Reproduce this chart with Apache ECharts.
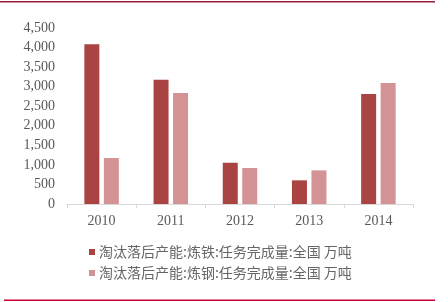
<!DOCTYPE html>
<html><head><meta charset="utf-8">
<script src="https://cdn.jsdelivr.net/npm/echarts@6/dist/echarts.min.js"></script>
<style>html,body{margin:0;padding:0;background:#fff}#c{width:448px;height:302px}</style>
</head><body><div id="c"></div>
<script>
const categories = ['2010','2011','2012','2013','2014'];
const ironValues = [4085, 3180, 1055, 605, 2815];
const steelValues = [1175, 2840, 920, 860, 3095];
const seriesNames = ['淘汰落后产能:炼铁:任务完成量:全国 万吨','淘汰落后产能:炼钢:任务完成量:全国 万吨'];
const yTicks = {min:0, max:4500, interval:500};

const chart = echarts.init(document.getElementById('c'), null, {renderer:'canvas'});
chart.setOption({
  animation:false,
  graphic:[
    {type:'rect', shape:{x:0,y:1,width:435,height:1.5}, style:{fill:'#9b1b30'}},
    {type:'rect', shape:{x:4,y:299.5,width:431,height:1.5}, style:{fill:'#cc0033'}}
  ],
  grid:{left:67,right:35,top:28,bottom:98,containLabel:false},
  legend:{
    orient:'vertical', left:84, top:240, itemWidth:6, itemHeight:6, itemGap:7,
    icon:'rect',
    textStyle:{fontFamily:'Noto Sans CJK SC',fontSize:14,color:'#666666',padding:[0,0,0,-1]},
    data:seriesNames
  },
  xAxis:{
    type:'category', data:categories,
    axisLine:{lineStyle:{color:'#d9d9d9'}},
    axisTick:{show:true,length:4,lineStyle:{color:'#d9d9d9'}},
    axisLabel:{fontFamily:'Liberation Serif',fontSize:14,color:'#595959',margin:10}
  },
  yAxis:{
    type:'value', min:yTicks.min, max:yTicks.max, interval:yTicks.interval,
    axisLine:{show:false}, axisTick:{show:false}, splitLine:{show:false},
    axisLabel:{fontFamily:'Liberation Serif',fontSize:14,color:'#595959',margin:12,
      formatter:v=>v.toLocaleString('en-US')}
  },
  series:[
    {name:seriesNames[0],type:'bar',data:ironValues,barWidth:15,barGap:'30%',itemStyle:{color:'#a94442'}},
    {name:seriesNames[1],type:'bar',data:steelValues,barWidth:15,itemStyle:{color:'#d39293'}}
  ]
});
</script></body></html>
